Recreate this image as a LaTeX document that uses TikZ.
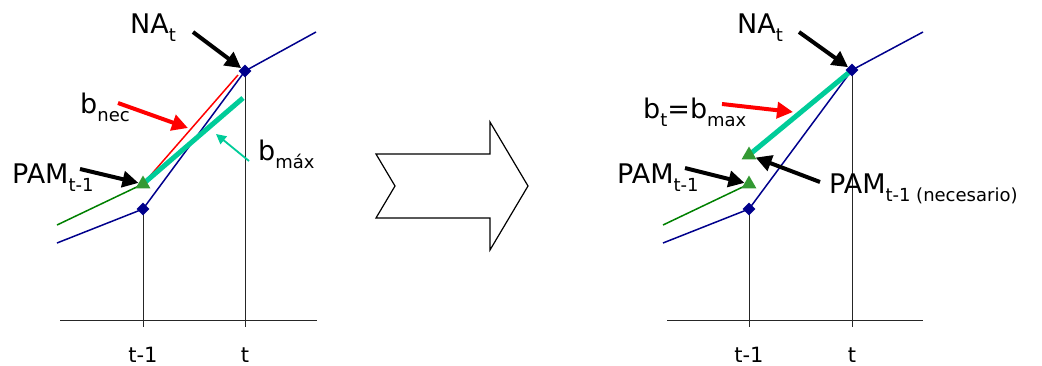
\documentclass[tikz,border=0pt]{standalone}
\usepackage{fontspec}
\setmainfont{DejaVu Sans}
\usetikzlibrary{shapes.geometric, arrows.meta}

\definecolor{navy}{RGB}{0,0,140}
\definecolor{prevgreen}{RGB}{0,128,0}
\definecolor{markgreen}{RGB}{51,153,51}
\definecolor{slopeteal}{RGB}{0,204,153}

\newcommand{\lowtxt}[1]{\raisebox{-0.33em}{\fontsize{18}{20}\selectfont #1}}

\begin{document}
\begin{tikzpicture}[
  x=1pt, y=-1pt,
  lbl/.style={inner sep=0pt, anchor=base west, font=\fontsize{27}{30}\selectfont},
  ticklbl/.style={inner sep=0pt, anchor=base, font=\fontsize{21}{24}\selectfont},
  napoint/.style={diamond, fill=navy, inner sep=0pt, minimum size=13pt},
  pampoint/.style={regular polygon, regular polygon sides=3, fill=markgreen, inner sep=0pt, minimum size=17pt},
  axisline/.style={draw=black!85, line width=0.9pt},
  curve/.style={draw=navy, line width=1.5pt},
  prevline/.style={draw=prevgreen, line width=1.5pt},
  slope/.style={draw=slopeteal, line width=5pt},
  need/.style={draw=red, line width=1.5pt},
  pointer/.style={-{Triangle[length=16pt,width=16pt]}, line width=4pt, black},
  redpointer/.style={-{Triangle[length=16pt,width=16pt]}, line width=4pt, red},
  tealpointer/.style={-{Triangle[length=10pt,width=10pt]}, line width=1.8pt, slopeteal}
]
\useasboundingbox (0,0) rectangle (1042,365);

% ----------------- LEFT PANEL -----------------
\coordinate (lAxS) at (60,320);
\coordinate (lAxE) at (317,320);
\coordinate (lTm1) at (143,209);
\coordinate (lT) at (245,71);
\coordinate (lTm1Low) at (143,327);
\coordinate (lTLow) at (245,327);
\coordinate (lBlueS) at (57,243);
\coordinate (lBlueE) at (316,32);
\coordinate (lGreenS) at (57,225);
\coordinate (lPamPt) at (143,184);
\coordinate (lNecE) at (238,75);
\coordinate (lMaxE) at (243,98);

\draw[axisline] (lAxS) -- (lAxE);
\draw[axisline] (lTm1) -- (lTm1Low);
\draw[axisline] (lT) -- (lTLow);
\draw[curve] (lBlueS) -- (lTm1) -- (lT) -- (lBlueE);
\draw[prevline] (lGreenS) -- (lPamPt);
\draw[need] (lPamPt) -- (lNecE);
\draw[slope] (lPamPt) -- (lMaxE);

\node[napoint] (lA) at (lTm1) {};
\node[napoint] (lB) at (lT) {};
\node[pampoint] (lPam) at (lPamPt) {};

% pointers
\coordinate (lNaTail) at (193,32);
\coordinate (lPamTail) at (80,169);
\coordinate (lNecTail) at (118,103);
\coordinate (lNecTip) at (188,128);
\coordinate (lMaxTail) at (249,161);
\coordinate (lMaxTip) at (216,134);
\draw[pointer] (lNaTail) -- (lB);
\draw[pointer] (lPamTail) -- (lPam);
\draw[redpointer] (lNecTail) -- (lNecTip);
\draw[tealpointer] (lMaxTail) -- (lMaxTip);

\node[lbl] (lNaLbl) at (130,33) {NA\lowtxt{t}};
\node[lbl] (lPamLbl) at (12,183) {PAM\lowtxt{t-1}};
\node[lbl] (lNecLbl) at (80,113) {b\lowtxt{nec}};
\node[lbl] (lMaxLbl) at (258,160) {b\lowtxt{máx}};
\node[ticklbl] (lTm1Lbl) at (143,362) {t-1};
\node[ticklbl] (lTLbl) at (245,362) {t};

% ----------------- BIG ARROW -----------------
\draw[line width=1.2pt, fill=white, line join=miter]
  (376,154) -- (490,154) -- (490,122) -- (528,186) -- (490,250)
  -- (490,218) -- (376,218) -- (395,186) -- cycle;

% ----------------- RIGHT PANEL -----------------
\coordinate (rAxS) at (667,320);
\coordinate (rAxE) at (923,320);
\coordinate (rTm1) at (749,209);
\coordinate (rT) at (852,70);
\coordinate (rTm1Low) at (749,327);
\coordinate (rTLow) at (852,327);
\coordinate (rBlueS) at (663,243);
\coordinate (rBlueE) at (923,32);
\coordinate (rGreenS) at (663,225);
\coordinate (rPamPt) at (749,184);
\coordinate (rNeedPt) at (749,155);

\draw[axisline] (rAxS) -- (rAxE);
\draw[axisline] (rTm1) -- (rTm1Low);
\draw[axisline] (rT) -- (rTLow);
\draw[curve] (rBlueS) -- (rTm1) -- (rT) -- (rBlueE);
\draw[prevline] (rGreenS) -- (rPamPt);
\draw[slope] (rNeedPt) -- (rT);

\node[napoint] (rA) at (rTm1) {};
\node[napoint] (rB) at (rT) {};
\node[pampoint] (rPam) at (rPamPt) {};
\node[pampoint] (rNeed) at (rNeedPt) {};

% pointers
\coordinate (rNaTail) at (799,32);
\coordinate (rPamTail) at (685,168);
\coordinate (rMaxTail) at (722,104);
\coordinate (rMaxTip) at (793,112);
\coordinate (rNeedTail) at (820,182);
\draw[pointer] (rNaTail) -- (rB);
\draw[pointer] (rPamTail) -- (rPam);
\draw[pointer] (rNeedTail) -- (rNeed);
\draw[redpointer] (rMaxTail) -- (rMaxTip);

\node[lbl] (rNaLbl) at (737,33) {NA\lowtxt{t}};
\node[lbl] (rMaxLbl) at (643,118) {b\lowtxt{t}=b\lowtxt{max}};
\node[lbl] (rPamLbl) at (617,183) {PAM\lowtxt{t-1}};
\node[lbl] (rNeedLbl) at (829,193) {PAM\lowtxt{t-1 (necesario)}};
\node[ticklbl] (rTm1Lbl) at (749,362) {t-1};
\node[ticklbl] (rTLbl) at (852,362) {t};

\end{tikzpicture}
\end{document}
